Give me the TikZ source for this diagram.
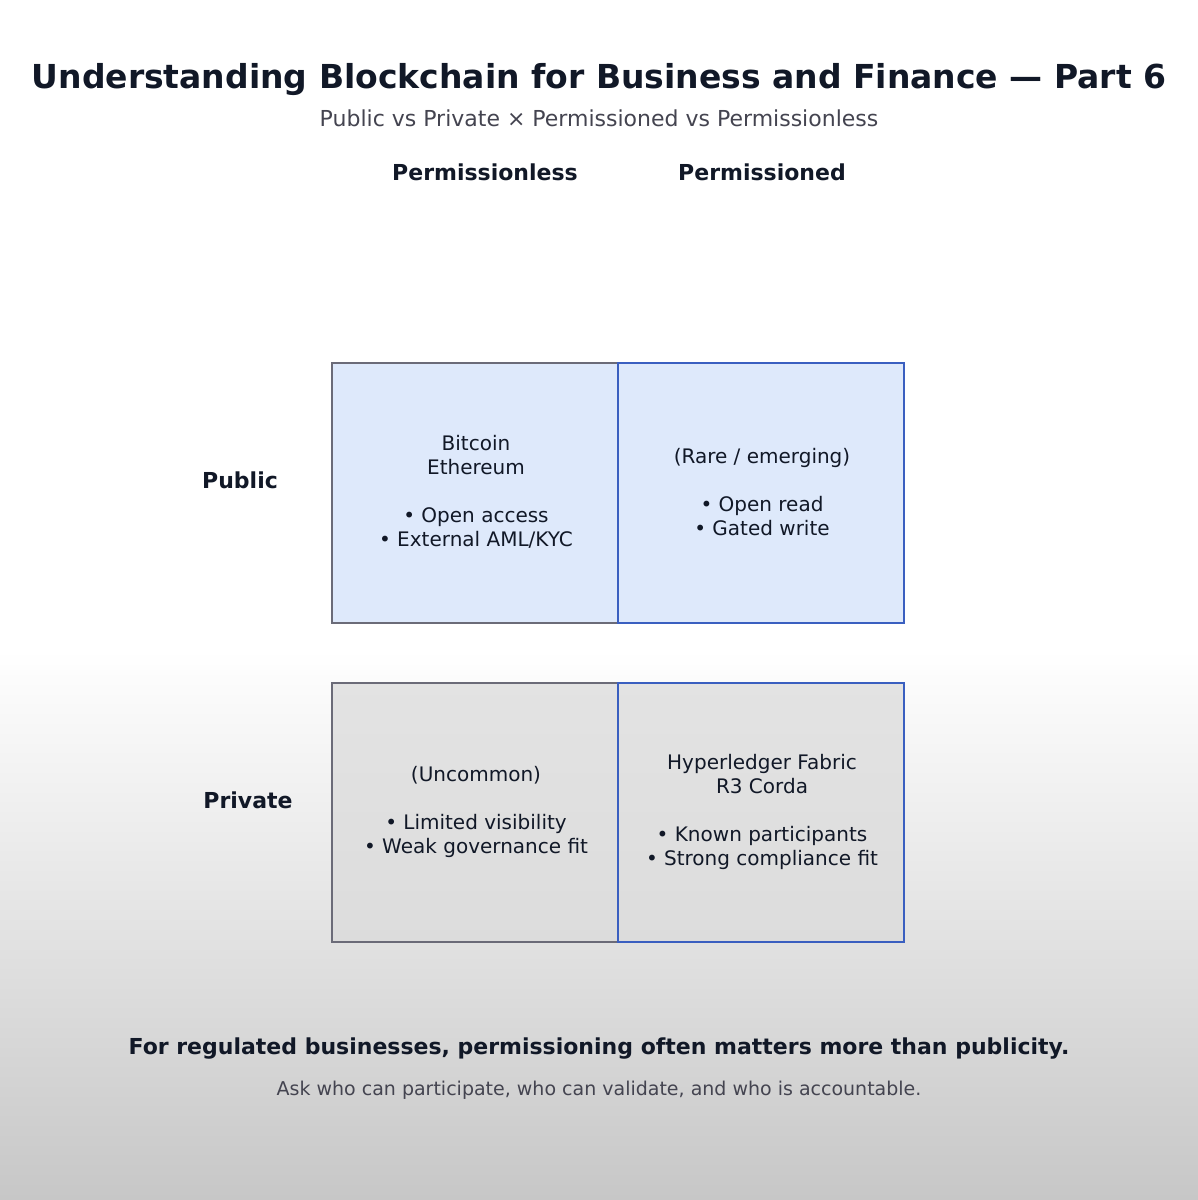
\documentclass[tikz,border=0pt]{standalone}
\usepackage{fontspec}
\setmainfont{DejaVu Sans}
\definecolor{ink}{HTML}{111827}
\definecolor{sub}{HTML}{444450}
\definecolor{pubfill}{HTML}{DEE9FB}
\definecolor{grayedge}{HTML}{6B6B78}
\definecolor{blueedge}{HTML}{3A5FC0}
\begin{document}
\begin{tikzpicture}[x=0.5pt,y=-0.5pt,
  cell/.style={text=ink,font=\fontsize{10}{12}\selectfont,align=center},
  hdr/.style={text=ink,font=\bfseries\fontsize{11}{13}\selectfont},
  pub/.style={fill=pubfill,line width=1.3pt},
  priv/.style={fill=gray!28,fill opacity=0.75,line width=1.3pt}]
\useasboundingbox (0,0) rectangle (1198,1200);
\fill[white] (0,0) rectangle (1198,650);
\shade[top color=white,bottom color=black!22] (0,650) rectangle (1198,1200);
\node[text=ink,font=\bfseries\fontsize{16.5}{19}\selectfont] (title) at (599,80) {Understanding Blockchain for Business and Finance — Part 6};
\node[text=sub,font=\fontsize{11}{13}\selectfont] (subtitle) at (599,118) {Public vs Private × Permissioned vs Permissionless};
\node[hdr] (h1) at (485,172) {Permissionless};
\node[hdr] (h2) at (762,172) {Permissioned};
\node[hdr] (r1) at (240,480) {Public};
\node[hdr] (r2) at (248,800) {Private};
\draw[pub,draw=grayedge] (332,363) rectangle (618,623);
\draw[pub,draw=blueedge] (618,363) rectangle (904,623);
\draw[priv,draw=grayedge,draw opacity=1] (332,683) rectangle (618,942);
\draw[priv,draw=blueedge,draw opacity=1] (618,683) rectangle (904,942);
\node[cell] (c11) at (476,492) {Bitcoin\\Ethereum\\[12pt]• Open access\\• External AML/KYC};
\node[cell] (c12) at (762,492) {(Rare / emerging)\\[12pt]• Open read\\• Gated write};
\node[cell] (c21) at (476,812) {(Uncommon)\\[12pt]• Limited visibility\\• Weak governance fit};
\node[cell] (c22) at (762,812) {Hyperledger Fabric\\R3 Corda\\[12pt]• Known participants\\• Strong compliance fit};
\node[text=ink,font=\bfseries\fontsize{11}{13}\selectfont] (note) at (599,1049) {For regulated businesses, permissioning often matters more than publicity.};
\node[text=sub,font=\fontsize{9.5}{11}\selectfont] (note2) at (599,1090) {Ask who can participate, who can validate, and who is accountable.};
\end{tikzpicture}
\end{document}
